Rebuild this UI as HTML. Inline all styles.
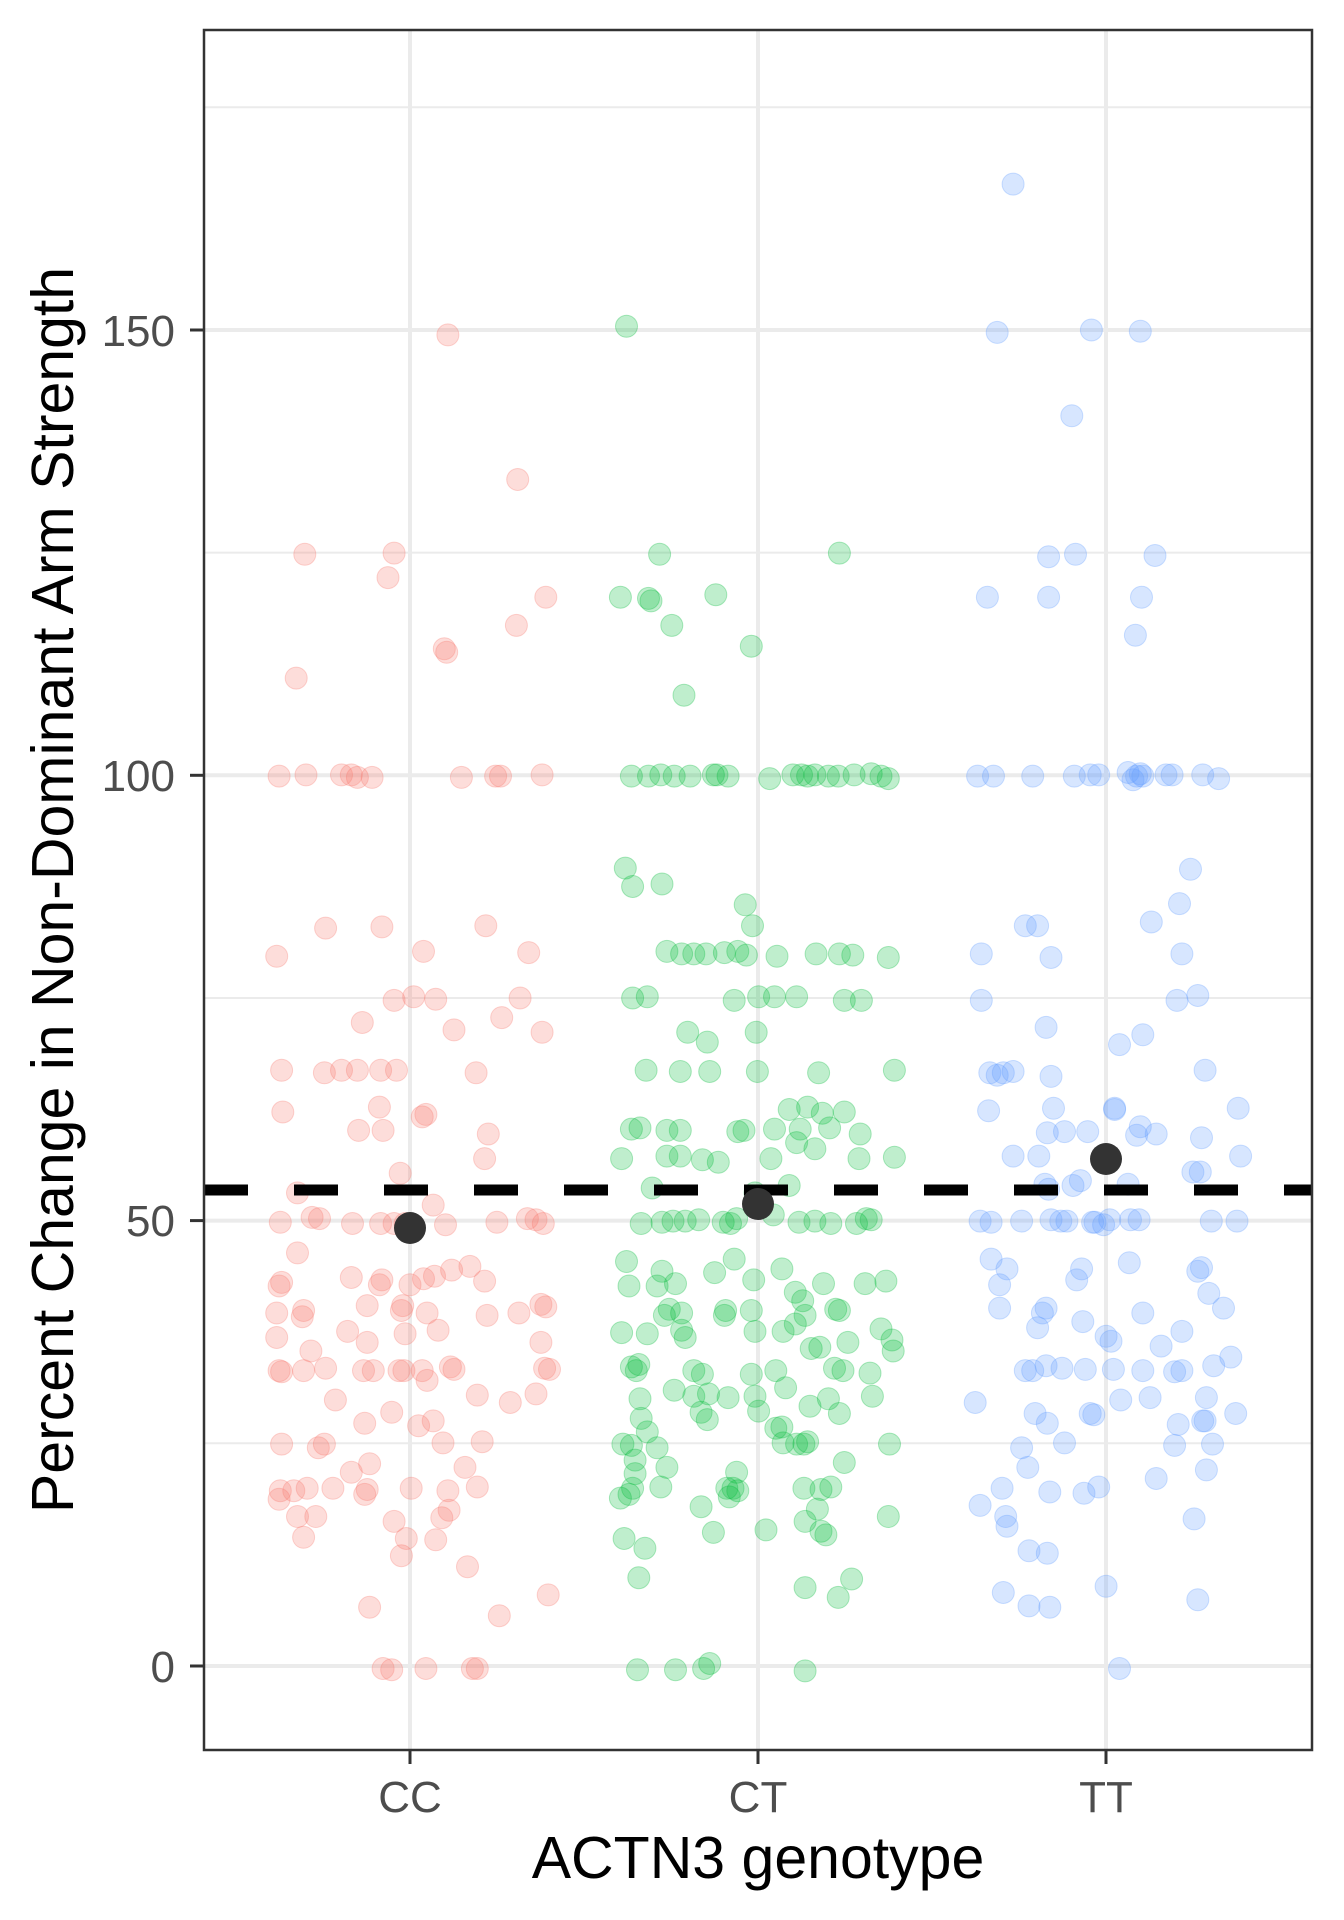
<!DOCTYPE html>
<html><head><meta charset="utf-8"><style>body{margin:0;background:#fff}svg{display:block}</style></head>
<body>
<svg id="s" width="1344" height="1920" xmlns="http://www.w3.org/2000/svg" font-family="Liberation Sans, sans-serif">
<rect x="0" y="0" width="1344" height="1920" fill="#fff"/>
<g stroke="#EBEBEB">
<line x1="204" x2="1312" y1="1443.3" y2="1443.3" stroke-width="2"/>
<line x1="204" x2="1312" y1="998" y2="998" stroke-width="2"/>
<line x1="204" x2="1312" y1="552.6" y2="552.6" stroke-width="2"/>
<line x1="204" x2="1312" y1="107.3" y2="107.3" stroke-width="2"/>
<line x1="204" x2="1312" y1="1666" y2="1666" stroke-width="4"/>
<line x1="204" x2="1312" y1="1220.6" y2="1220.6" stroke-width="4"/>
<line x1="204" x2="1312" y1="775.3" y2="775.3" stroke-width="4"/>
<line x1="204" x2="1312" y1="330" y2="330" stroke-width="4"/>
<line x1="410" x2="410" y1="30" y2="1750" stroke-width="4"/>
<line x1="758" x2="758" y1="30" y2="1750" stroke-width="4"/>
<line x1="1106" x2="1106" y1="30" y2="1750" stroke-width="4"/>
</g>
<g id="pts"></g>
<line x1="204" x2="1312" y1="1190" y2="1190" stroke="#000" stroke-width="11" stroke-dasharray="44,46"/>
<circle cx="410" cy="1228" r="16" fill="#333"/>
<circle cx="758" cy="1204" r="16" fill="#333"/>
<circle cx="1106" cy="1159" r="16" fill="#333"/>
<rect x="204" y="30" width="1108" height="1720" fill="none" stroke="#333" stroke-width="2.5"/>
<g stroke="#333" stroke-width="3">
<line x1="190" x2="204" y1="1666" y2="1666"/><line x1="190" x2="204" y1="1220.6" y2="1220.6"/>
<line x1="190" x2="204" y1="775.3" y2="775.3"/><line x1="190" x2="204" y1="330" y2="330"/>
<line x1="410" x2="410" y1="1750" y2="1764"/><line x1="758" x2="758" y1="1750" y2="1764"/><line x1="1106" x2="1106" y1="1750" y2="1764"/>
</g>
<g fill="#4D4D4D" font-size="44" text-anchor="end">
<text x="175" y="1682">0</text><text x="175" y="1236">50</text><text x="175" y="791">100</text><text x="175" y="346">150</text>
</g>
<g fill="#4D4D4D" font-size="44" text-anchor="middle">
<text x="410" y="1812">CC</text><text x="758" y="1812">CT</text><text x="1106" y="1812">TT</text>
</g>
<text x="758" y="1878" font-size="59" text-anchor="middle" fill="#000">ACTN3 genotype</text>
<text transform="translate(73,890) rotate(-90)" font-size="59" text-anchor="middle" fill="#000">Percent Change in Non-Dominant Arm Strength</text>
</svg>
<script>
var CC=[226,779,230,872,231,906,249,451,242,552,228,632,250,631,279,631,287,631,292,633,304,633,377,633,405,632,409,632,443,631,366,272,322,450,317,470,423,390,363,528,365,531,422,509,446,486,266,756,312,755,346,775,397,754,432,776,322,815,338,812,356,814,371,839,410,829,425,813,443,841,296,833,265,874,279,872,292,872,311,872,324,872,310,902,293,921,313,921,348,908,345,910,399,924,396,944,389,874,327,956,354,982,243,972,255,992,261,993,229,996,288,997,311,997,322,997,331,997,364,998,406,996,431,993,438,994,444,997,243,1021,287,1041,230,1045,228,1048,312,1043,310,1047,335,1047,346,1042,355,1040,369,1035,384,1032,396,1044,226,1070,248,1068,247,1073,300,1064,329,1064,328,1068,349,1070,398,1072,424,1070,442,1063,226,1090,254,1101,284,1085,300,1094,331,1087,358,1084,446,1065,442,1094,228,1117,230,1118,248,1117,266,1115,297,1117,305,1117,326,1117,330,1117,345,1117,368,1114,371,1116,445,1115,449,1116,438,1136,274,1141,349,1125,390,1137,417,1143,298,1160,320,1151,342,1162,354,1158,230,1177,260,1180,265,1177,362,1176,394,1175,302,1193,287,1200,229,1215,240,1215,251,1213,272,1213,300,1214,336,1213,366,1215,390,1212,380,1196,228,1222,298,1218,367,1231,243,1236,258,1236,361,1237,322,1240,248,1253,332,1254,356,1255,328,1268,382,1277,302,1310,408,1317,448,1300,313,1360,320,1361,348,1360,386,1360,390,1360];
var CT=[512,265,507,486,530,487,532,489,539,451,549,509,585,484,614,526,686,450,559,566,516,632,530,632,540,631,551,632,564,632,583,631,586,631,595,632,629,634,648,631,655,631,660,632,666,631,677,632,685,632,698,631,712,630,720,632,726,634,511,707,517,722,541,720,609,737,615,754,545,775,557,777,567,777,577,777,592,776,603,775,610,778,635,779,667,777,686,777,697,778,726,780,517,813,529,812,600,815,620,812,633,812,651,812,690,815,704,815,562,841,578,849,580,873,618,841,619,873,528,872,556,873,669,874,731,872,645,904,660,902,672,907,690,906,516,920,523,919,545,921,556,921,603,922,608,921,633,920,654,920,678,919,703,924,651,931,666,936,545,942,556,942,574,945,587,947,630,944,508,944,702,944,731,943,533,968,617,972,645,966,632,990,524,997,541,996,550,995,560,995,571,994,591,996,597,997,602,993,653,996,666,995,679,997,700,997,708,993,712,994,600,1026,512,1028,514,1048,541,1036,537,1048,552,1046,584,1037,616,1043,639,1034,650,1053,673,1046,707,1046,724,1044,547,1067,543,1072,557,1070,593,1068,592,1072,614,1068,656,1060,658,1072,683,1067,686,1068,508,1086,529,1087,557,1084,560,1090,617,1085,640,1085,650,1079,663,1099,670,1098,693,1094,720,1083,729,1092,730,1101,516,1114,520,1117,522,1112,567,1117,574,1120,614,1120,634,1117,682,1115,689,1117,711,1119,523,1140,551,1133,567,1138,579,1136,595,1139,617,1138,642,1131,662,1146,677,1140,686,1152,713,1138,524,1156,529,1167,573,1151,578,1157,620,1150,634,1164,639,1163,651,1177,657,1177,660,1175,509,1177,516,1178,537,1180,640,1176,727,1177,519,1190,545,1196,519,1201,602,1200,690,1192,517,1213,540,1212,594,1213,599,1213,657,1213,671,1214,679,1212,507,1221,514,1218,573,1228,583,1249,596,1220,603,1215,626,1247,668,1230,658,1240,671,1248,726,1236,510,1254,527,1262,522,1286,675,1251,658,1294,685,1302,696,1287,521,1361,552,1361,575,1360,580,1356,658,1362];
var TT=[828,149,815,270,892,268,932,269,876,338,807,486,857,486,857,453,879,451,944,452,933,486,928,517,799,632,812,632,844,632,878,632,891,631,898,631,922,629,926,635,929,632,934,632,932,630,953,631,958,631,983,631,996,634,973,708,964,736,941,751,838,754,848,754,802,777,859,780,966,777,979,811,802,815,855,837,962,815,934,843,915,851,809,874,815,876,820,874,828,873,859,877,985,872,808,905,861,903,870,922,856,923,889,922,932,918,929,925,945,924,849,942,828,942,854,965,883,962,877,966,857,969,922,965,911,904,911,903,975,955,981,955,1012,903,1014,942,982,927,801,995,810,996,835,995,859,994,867,995,872,995,893,996,895,996,902,998,907,994,924,994,931,994,990,995,1011,995,810,1026,823,1034,817,1047,880,1043,884,1034,923,1029,988,1054,979,1036,982,1033,1000,1066,817,1066,852,1070,855,1066,848,1082,885,1077,934,1070,904,1089,908,1093,949,1097,966,1085,992,1113,1006,1106,838,1117,844,1117,855,1113,868,1115,887,1116,910,1116,934,1117,960,1118,966,1117,940,1139,986,1139,797,1143,846,1152,856,1160,870,1176,891,1152,894,1153,916,1141,963,1161,983,1158,985,1158,1010,1152,835,1180,960,1178,991,1177,945,1205,840,1196,819,1213,858,1216,886,1217,898,1212,986,1198,801,1227,823,1244,822,1236,841,1264,856,1266,976,1238,820,1298,841,1309,858,1310,904,1293,979,1304,915,1360];
var g=document.getElementById('pts'),h='';
[[CC,'#F8766D'],[CT,'#00BA38'],[TT,'#619CFF']].forEach(function(p){var a=p[0];for(var i=0;i<a.length;i+=2){var x=410+(a[i]-335)*1.2233,y=1666-(1358-a[i+1])*1.2257;h+='<circle cx="'+x.toFixed(1)+'" cy="'+y.toFixed(1)+'" r="11" fill="'+p[1]+'" fill-opacity="0.25" stroke="'+p[1]+'" stroke-opacity="0.3" stroke-width="1"/>';}});
g.innerHTML=h;
</script>
</body></html>
